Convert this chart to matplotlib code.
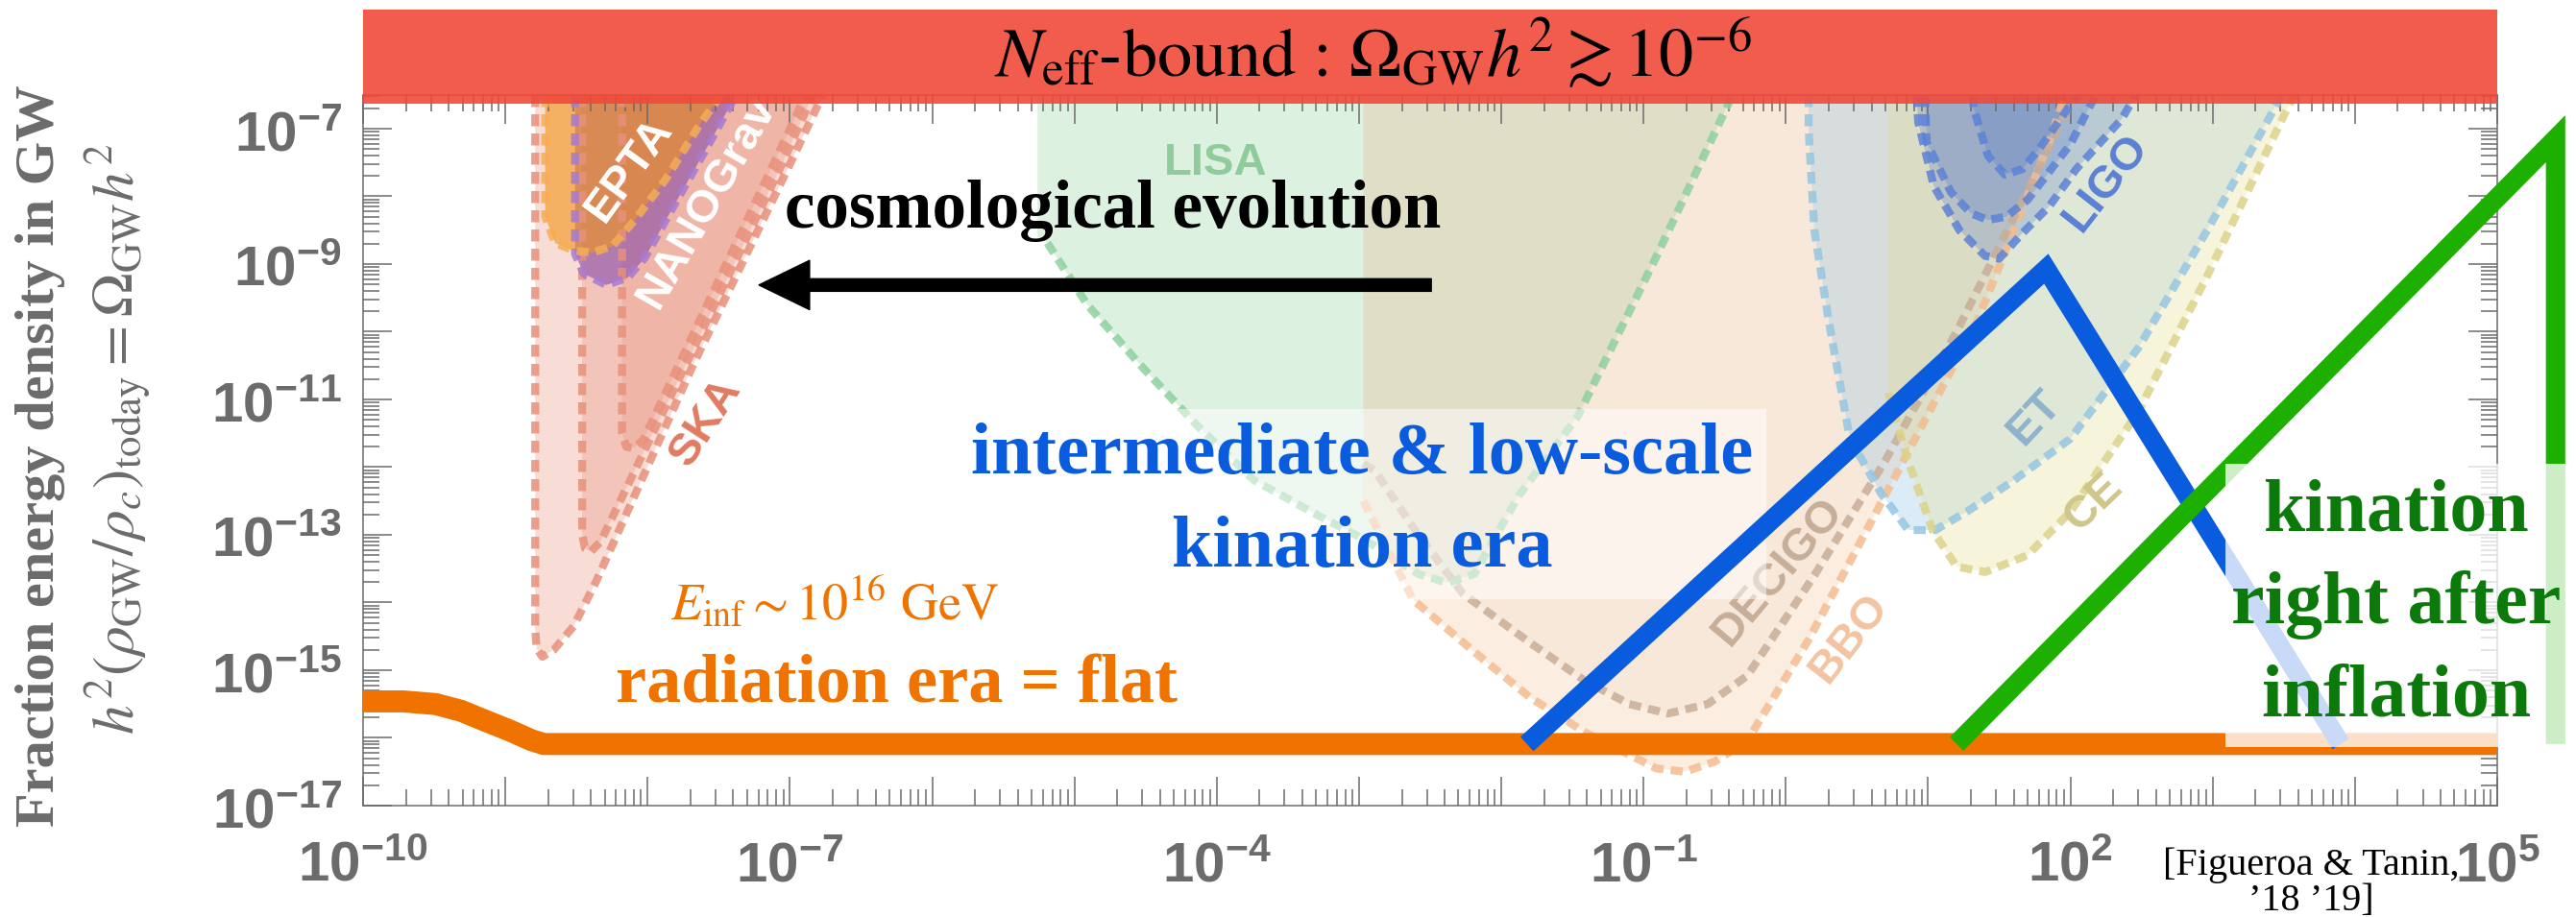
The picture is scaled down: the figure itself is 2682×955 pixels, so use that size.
import numpy as np
import matplotlib
matplotlib.use("Agg")
import matplotlib.pyplot as plt
from matplotlib import font_manager
from matplotlib.patches import Rectangle
from matplotlib.ticker import FixedLocator, LogLocator, FuncFormatter, NullFormatter


def have_font(name):
    try:
        font_manager.findfont(font_manager.FontProperties(family=name),
                              fallback_to_default=False)
        return True
    except ValueError:
        return False


# every curve is stored as log10(f) and log10(Omega_GW h^2)

# radiation era plateau
rad_f = [-10.0, -9.72, -9.49, -9.31, -9.16, -8.97, -8.82, -8.73, 5.0]
rad_om = [-15.46, -15.46, -15.50, -15.60, -15.73, -15.89, -16.03, -16.09, -16.09]

# intermediate & low-scale kination
kin_low_f = [-1.82, 1.83, 3.9]
kin_low_om = [-16.09, -9.07, -16.09]

# kination right after inflation
kin_high_f = [1.2, 5.41, 5.41]
kin_high_om = [-16.09, -7.15, -16.09]

# pulsar timing arrays
ska1_f = [-8.79, -8.79, -8.78, -8.74, -8.66, -8.52, -8.36, -7.68, -7.01, -6.43]
ska1_om = [-5.0, -14.4, -14.68, -14.8, -14.7, -14.35, -13.68, -10.49, -7.57, -5.0]
ska2_f = [-8.46, -8.46, -8.44, -8.40, -8.33, -7.7, -7.05, -6.52]
ska2_om = [-5.0, -13.0, -13.2, -13.25, -13.1, -10.35, -7.5, -5.0]
ska3_f = [-8.18, -8.18, -8.15, -8.1, -8.03, -6.55]
ska3_om = [-5.0, -11.5, -11.7, -11.72, -11.6, -5.0]
nano_f = [-8.51, -8.51, -8.45, -8.29, -8.14, -8.02, -7.8, -7.57, -7.41, -6.98]
nano_om = [-5.0, -8.85, -9.14, -9.31, -9.2, -8.91, -8.08, -7.23, -6.62, -5.0]
epta_f = [-8.72, -8.72, -8.65, -8.52, -8.39, -8.25, -8.09, -7.87, -7.64, -7.0]
epta_om = [-5.0, -8.3, -8.69, -8.8, -8.83, -8.74, -8.35, -7.74, -6.96, -5.1]

# space interferometers
lisa_f = [-5.26, -5.26, -5.19, -4.91, -4.52, -4.14, -3.74, -3.3, -2.97, -2.58,
          -2.38, -2.19, -1.88, -1.46, -0.91, -0.41, -0.05]
lisa_om = [-5.0, -8.6, -8.69, -9.6, -10.53, -11.38, -12.19, -12.7, -13.06, -13.58,
           -13.71, -13.58, -12.43, -11.24, -8.89, -6.66, -5.0]
bbo_f = [-2.97, -2.97, -2.62, -2.19, -1.8, -1.41, -0.91, -0.71, -0.5, -0.27,
         0.16, 0.79, 1.35, 1.85, 2.2]
bbo_om = [-5.0, -12.5, -13.96, -14.73, -15.4, -15.92, -16.45, -16.5, -16.35, -16.04,
          -14.55, -12.05, -9.82, -7.2, -5.0]
decigo_f = [-2.97, -2.97, -2.89, -2.6, -2.27, -1.8, -1.41, -1.1, -0.83, -0.55,
            -0.27, 0.2, 0.7, 1.2, 1.7, 2.1]
decigo_om = [-5.0, -11.95, -12.05, -12.95, -13.87, -14.59, -15.16, -15.5, -15.64, -15.5,
             -15.08, -13.6, -11.9, -10.0, -7.9, -6.2]

# ground based detectors
et_f = [0.16, 0.16, 0.2, 0.3, 0.45, 0.67, 0.86, 1.05, 1.27, 1.6, 2.0, 2.48, 2.97, 3.45, 3.88]
et_om = [-5.0, -7.0, -8.5, -9.82, -11.58, -12.39, -12.93, -12.93, -12.66, -12.2,
         -11.58, -10.23, -8.47, -6.64, -5.0]
ce_f = [0.72, 0.72, 0.85, 1.03, 1.2, 1.4, 1.7, 2.0, 2.48, 2.97, 3.52, 3.95]
ce_om = [-5.0, -10.9, -11.85, -12.93, -13.47, -13.55, -13.3, -12.66, -11.17, -9.14, -6.72, -5.0]
ligo1_f = [0.88, 0.93, 1.04, 1.22, 1.4, 1.5, 1.66, 1.85, 2.04, 2.36, 2.6]
ligo1_om = [-5.0, -6.9, -7.85, -8.5, -8.88, -8.92, -8.55, -8.15, -7.6, -6.86, -6.0]
ligo2_f = [0.95, 0.99, 1.16, 1.3, 1.42, 1.55, 1.7, 2.0, 2.3]
ligo2_om = [-5.0, -7.2, -7.94, -8.25, -8.35, -8.3, -8.05, -7.23, -6.0]
ligo3_f = [1.28, 1.32, 1.42, 1.54, 1.66, 1.78, 2.05, 2.3]
ligo3_om = [-5.0, -6.7, -7.4, -7.68, -7.6, -7.3, -6.5, -5.5]

x_label_exps = [-10, -7, -4, -1, 2, 5]
y_label_exps = [-17, -15, -13, -11, -9, -7]

GRAY = "#6b6b6b"
ORANGE = "#f07300"
BLUE = "#0a5cde"
GREEN = "#1eb000"
DKGREEN = "#0b7a0b"

tick_font = "Liberation Sans Narrow" if have_font("Liberation Sans Narrow") else "Liberation Sans"
tick_size = 46 if tick_font == "Liberation Sans Narrow" else 42
plt.rcParams["mathtext.fontset"] = "custom"
for k in ("rm", "it", "bf", "sf"):
    plt.rcParams["mathtext." + k] = tick_font + ":bold"


def P(lf, lo):
    return 10.0 ** np.asarray(lf), 10.0 ** np.asarray(lo)


fig = plt.figure(figsize=(26.82, 9.55), dpi=100)
ax = fig.add_axes([378 / 2682, 116 / 955, 2222 / 2682, 740 / 955])
ax.set_xscale("log")
ax.set_yscale("log")
ax.set_xlim(1e-10, 1e5)
ax.set_ylim(1e-17, 10 ** -6.504)

# sensitivity regions: curve, fill colour, fill alpha, dash colour, first dashed point
regions = [
    (ska1_f, ska1_om, "#e8907a", 0.3, "#e8907a", 0),
    (ska2_f, ska2_om, "#e8907a", 0.3, "#e8907a", 0),
    (ska3_f, ska3_om, "#e8907a", 0.3, "#e8907a", 0),
    (nano_f, nano_om, "#7d3fa6", 0.55, "#a77ad0", 0),
    (epta_f, epta_om, "#f39517", 0.6, "#f5ad55", 0),
    (lisa_f, lisa_om, "#8fd19e", 0.3, "#8fd19e", 2),
    (bbo_f, bbo_om, "#f4c8a0", 0.32, "#f4bc90", 1),
    (decigo_f, decigo_om, "#c8ae98", 0.08, "#c8ae98", 1),
    (et_f, et_om, "#8ec3e6", 0.3, "#95c6e2", 0),
    (ce_f, ce_om, "#e6dc8c", 0.3, "#dcd38a", 1),
    (ligo1_f, ligo1_om, "#4f74c8", 0.25, "#5b82d6", 0),
    (ligo2_f, ligo2_om, "#4f74c8", 0.25, "#5b82d6", 0),
    (ligo3_f, ligo3_om, "#4f74c8", 0.25, "#5b82d6", 0),
]
for xs, ys, fc, fa, lc, i0 in regions:
    ax.fill(*P(xs, ys), color=fc, alpha=fa, lw=0, zorder=1)
for xs, ys, fc, fa, lc, i0 in regions:
    ax.plot(*P(xs[i0:], ys[i0:]), color=lc, lw=6, ls=(0, (1.5, 0.9)),
            alpha=0.85, dash_capstyle="butt", zorder=2)

# detector names
det_labels = [
    ("EPTA", -8.13, -7.6, 54, "white"),
    ("NANOGrav", -7.58, -8.08, 60, "white"),
    ("SKA", -7.59, -11.33, 57, "#e07b62"),
    ("LISA", -4.01, -7.51, 0, "#8fcb9b"),
    ("DECIGO", -0.05, -13.54, 50, "#c7ae98"),
    ("BBO", 0.45, -14.52, 52, "#f2c4a2"),
    ("LIGO", 2.25, -7.79, 52, "#5a80d4"),
    ("ET", 1.75, -11.27, 47, "#8fb3cc"),
    ("CE", 2.16, -12.53, 44, "#cfc68a"),
]
for name, lf, lo, rot, col in det_labels:
    ax.text(10 ** lf, 10 ** lo, name, rotation=rot, rotation_mode="anchor",
            ha="center", va="center", color=col, fontsize=34,
            family="Liberation Sans", weight="bold", zorder=3, clip_on=True)

# translucent box behind the blue caption
ax.add_patch(Rectangle((10 ** -4.45, 10 ** -13.95), 10 ** -0.14 - 10 ** -4.45,
                       10 ** -11.14 - 10 ** -13.95, facecolor="white",
                       alpha=0.5, lw=0, zorder=3))

ax.plot(*P(rad_f, rad_om), color=ORANGE, lw=16.5, solid_joinstyle="round",
        solid_capstyle="butt", zorder=4)
ax.plot(*P(kin_low_f, kin_low_om), color=BLUE, lw=14.5, solid_joinstyle="miter",
        solid_capstyle="butt", zorder=5)
ax.plot(*P(kin_high_f, kin_high_om), color=GREEN, lw=14.5, solid_joinstyle="miter",
        solid_capstyle="butt", zorder=6, clip_on=False)

# translucent box behind the green caption
ax.add_patch(Rectangle((10 ** 3.09, 10 ** -16.13), 10 ** 5.54 - 10 ** 3.09,
                       10 ** -11.95 - 10 ** -16.13, facecolor="white",
                       alpha=0.78, lw=0, zorder=7, clip_on=False))

ax.annotate("", xy=(10 ** -7.218, 10 ** -9.31), xytext=(10 ** -2.492, 10 ** -9.31),
            arrowprops=dict(arrowstyle="simple,head_length=38,head_width=37,tail_width=9.4",
                            mutation_scale=1, color="black", shrinkA=0, shrinkB=0),
            zorder=8)

serif = "Liberation Serif"
ax.text(10 ** -4.727, 10 ** -8.46, "cosmological evolution", ha="center", va="baseline",
        fontsize=51, family=serif, weight="bold", color="black", zorder=8)
ax.text(10 ** -6.249, 10 ** -15.48, "radiation era = flat", ha="center", va="baseline",
        fontsize=52, family=serif, weight="bold", color=ORANGE, zorder=8)
ax.text(10 ** -6.685, 10 ** -14.26, r"$E_{\rm inf} \sim 10^{16}$ GeV", ha="center",
        va="baseline", fontsize=39, family="STIXGeneral", math_fontfamily="stix",
        color=ORANGE, zorder=8)
ax.text(10 ** -2.978, 10 ** -12.09, "intermediate & low-scale", ha="center",
        va="baseline", fontsize=55, family=serif, weight="bold", color=BLUE, zorder=8)
ax.text(10 ** -2.978, 10 ** -13.47, "kination era", ha="center", va="baseline",
        fontsize=55, family=serif, weight="bold", color=BLUE, zorder=8)
for line, lo in zip(["kination", "right after", "inflation"], [-12.94, -14.30, -15.68]):
    ax.text(10 ** 4.288, 10 ** lo, line, ha="center", va="baseline", fontsize=56,
            family=serif, weight="bold", color=DKGREEN, zorder=8)

# frame and ticks
ax.xaxis.set_major_locator(FixedLocator(10.0 ** np.arange(-10, 6)))
ax.yaxis.set_major_locator(FixedLocator(10.0 ** np.arange(-17, -6)))
ax.xaxis.set_minor_locator(LogLocator(base=10, subs=np.arange(2, 10), numticks=100))
ax.yaxis.set_minor_locator(LogLocator(base=10, subs=np.arange(2, 10), numticks=100))
ax.xaxis.set_minor_formatter(NullFormatter())
ax.yaxis.set_minor_formatter(NullFormatter())


def fmt(exps):
    def f(v, pos):
        e = int(round(np.log10(v)))
        return r"$10^{%d}$" % e if e in exps else ""
    return FuncFormatter(f)


ax.xaxis.set_major_formatter(fmt(x_label_exps))
ax.yaxis.set_major_formatter(fmt(y_label_exps))
ax.tick_params(which="both", direction="in", top=True, right=True, color=GRAY,
               width=1.1, labelcolor=GRAY, labelsize=tick_size)
ax.tick_params(which="major", length=21.6)
ax.tick_params(which="minor", length=12)
ax.tick_params(axis="x", pad=24)
ax.tick_params(axis="y", pad=16)
for s in ax.spines.values():
    s.set_color(GRAY)
    s.set_linewidth(1.1)

# N_eff bound band above the frame
ax.add_patch(Rectangle((0, 0.988), 1.0, 0.132, transform=ax.transAxes,
                       facecolor="#f04a3a", alpha=0.9, lw=0, zorder=10, clip_on=False))
fig.text(1430 / 2682, 1 - 80 / 955,
         r"$N_{\rm eff}$-bound : $\Omega_{\rm GW}h^2 \gtrsim 10^{-6}$",
         ha="center", va="baseline", fontsize=52, family="STIXGeneral",
         math_fontfamily="stix", color="black", zorder=11)

# axis title
fig.text(42 / 2682, 1 - 475 / 955, "Fraction energy density in GW", rotation=90,
         ha="center", va="center", fontsize=42, family=serif, weight="bold", color=GRAY)
fig.text(123 / 2682, 1 - 457 / 955,
         r"$h^2(\rho_{\rm GW}/\rho_c)_{\rm today} = \Omega_{\rm GW}h^2$", rotation=90,
         ha="center", va="center", fontsize=44, math_fontfamily="stix", color=GRAY)

fig.text(2406 / 2682, 1 - 920 / 955, "[Figueroa & Tanin,\n\u201918 \u201919]",
         ha="center", va="center", multialignment="center", fontsize=29,
         family=serif, color="black", linespacing=1.0)

fig.savefig("out.png", dpi=100)
